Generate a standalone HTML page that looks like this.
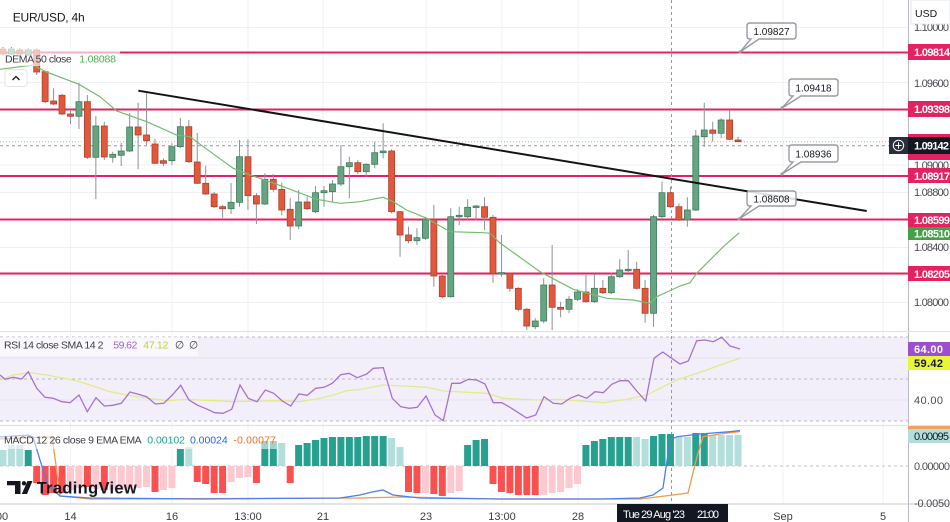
<!DOCTYPE html>
<html><head><meta charset="utf-8"><style>
html,body{margin:0;padding:0;background:#fff;}
svg{display:block;font-family:"Liberation Sans",Arial,sans-serif;}
</style></head><body>
<svg width="950" height="522" viewBox="0 0 950 522" xmlns="http://www.w3.org/2000/svg">
<rect x="0" y="0" width="950" height="522" fill="#fff"/>
<!-- RSI background -->
<rect x="0" y="337" width="908" height="84" fill="#f3effa"/>
<!-- horizontal grid main -->
<g stroke="#f0f1f4" stroke-width="1">
<path d="M0,27.5H908M0,55H908M0,82.5H908M0,110H908M0,137.5H908M0,165H908M0,192.5H908M0,220H908M0,247.5H908M0,275H908M0,302.5H908"/>
<path d="M70.5,0V504M172,0V504M248,0V504M323,0V504M426,0V504M502,0V504M578,0V504M783,0V504M883,0V504"/>
</g>
<path d="M0,358H908M0,400H908" stroke="#e4e0ee" stroke-width="1"/>
<g stroke="#b8b8c4" stroke-width="1" stroke-dasharray="3,3" fill="none">
<path d="M0,337H908M0,379H908M0,421H908"/>
</g>
<path d="M0,466H908" stroke="#c4c6cc" stroke-width="1" stroke-dasharray="3,3"/>
<!-- pink levels -->
<g stroke="#e3235f" stroke-width="2">
<path d="M0,52.5H908M0,109.5H908M0,176H908M0,219.5H908M0,273.5H908"/>
</g>
<!-- current price dotted, crosshair -->
<path d="M0,141.7H908" stroke="#f4a6a6" stroke-width="1" stroke-dasharray="1,2"/>
<path d="M0,145.7H889" stroke="#9598a1" stroke-width="1" stroke-dasharray="3,3"/>
<path d="M671.5,0V504" stroke="#9598a1" stroke-width="1" stroke-dasharray="3,3"/>
<!-- wicks -->
<path fill="none" stroke="#8e9199" stroke-width="1" d="M2.9,47V56M11.35,47V55M19.8,48V56M28.25,48V56M36.7,48V75M45.15,70.7V103M53.6,88.3V105M62.05,94V115M70.5,111V124M78.95,82.7V129M87.4,95V159M95.85,116V199M104.3,121.7V160M112.75,151.7V162.7M121.2,143V166M129.65,113V152M138.1,102.7V169.3M146.55,93.3V145M155,138.7V164M163.45,158.3V166M171.9,143.3V165M180.35,118V148M188.8,120V163M197.25,133V184M205.7,165.7V195M214.15,192V208M222.6,205V217.7M231.05,183V214M239.5,140V206.7M247.95,139.3V210M256.4,193V224M264.85,173.3V205M273.3,174V191.7M281.75,182.7V215M290.2,198V240M298.65,190V229.3M307.1,196.7V210M315.55,186V213M324,186V206.7M332.45,180V201.7M340.9,145V186M349.35,156.7V198.3M357.8,160V174M366.25,163.3V176.7M374.7,141.7V168.3M383.15,123.3V158.3M391.6,149.3V213.3M400.05,211V256.7M408.5,226.7V243.3M416.95,228.3V245M425.4,216.7V240M433.85,205V286.7M442.3,275V298.3M450.75,208.3V297.5M459.2,206.7V225M467.65,199.3V220M476.1,205V220M484.55,197.3V230M493,215V282.7M501.45,235V276.7M509.9,272.7V291.7M518.35,287.3V311M526.8,308V330M535.25,318.3V329.3M543.7,278.3V323.3M552.15,245V330M560.6,301.7V317.3M569.05,296V313.3M577.5,289.3V301M585.95,275V302.7M594.4,274V303M602.85,280V294M611.3,272.7V294M619.75,259.3V278M628.2,250V272M636.65,261.7V289.5M645.1,280V322.7M653.55,215V326.7M662,181.7V218M670.45,186.7V208M678.9,203.3V221M687.35,197.3V226.7M695.8,130V211M704.25,102.7V146.7M712.7,121.7V141.7M721.15,118.3V138.3M729.6,110.7V140M738.05,136.7V142"/>
<!-- green bodies -->
<g fill="#66a582" stroke="#3f7b5b" stroke-width="0.8">
<rect x="8.35" y="49" width="6" height="5"/><rect x="25.25" y="50" width="6" height="5"/>
<rect x="75.95" y="101.7" width="6" height="14.6"/><rect x="92.85" y="126" width="6" height="31.3"/>
<rect x="109.75" y="154.3" width="6" height="3"/><rect x="118.2" y="151" width="6" height="4.3"/>
<rect x="126.65" y="127" width="6" height="24"/><rect x="168.9" y="146.7" width="6" height="14"/>
<rect x="177.35" y="126.7" width="6" height="20"/><rect x="228.05" y="202.3" width="6" height="6.4"/>
<rect x="236.5" y="156.7" width="6" height="45.6"/><rect x="261.85" y="179.3" width="6" height="24.7"/>
<rect x="295.65" y="202" width="6" height="24"/><rect x="312.55" y="192.7" width="6" height="19"/>
<rect x="321" y="190.7" width="6" height="2"/><rect x="329.45" y="184" width="6" height="7.7"/>
<rect x="337.9" y="166.7" width="6" height="17.3"/><rect x="346.35" y="162.7" width="6" height="4"/>
<rect x="363.25" y="164.3" width="6" height="7.4"/><rect x="371.7" y="152.7" width="6" height="11.6"/>
<rect x="380.15" y="151" width="6" height="1.7"/><rect x="413.95" y="237.7" width="6" height="3"/>
<rect x="422.4" y="219.3" width="6" height="19"/><rect x="447.75" y="216.7" width="6" height="80"/>
<rect x="456.2" y="215.3" width="6" height="1.5"/><rect x="464.65" y="207.3" width="6" height="9.4"/>
<rect x="473.1" y="206" width="6" height="1.5"/><rect x="498.45" y="272.6" width="6" height="1.5"/>
<rect x="532.25" y="321" width="6" height="5.7"/><rect x="540.7" y="285" width="6" height="36"/>
<rect x="566.05" y="299.3" width="6" height="10"/><rect x="574.5" y="292" width="6" height="7.3"/>
<rect x="591.4" y="288.3" width="6" height="13.4"/><rect x="608.3" y="276.7" width="6" height="16"/>
<rect x="616.75" y="270" width="6" height="6.7"/><rect x="625.2" y="269.3" width="6" height="1.5"/>
<rect x="650.55" y="216.7" width="6" height="96.6"/><rect x="659" y="192.7" width="6" height="24"/>
<rect x="684.35" y="210" width="6" height="10"/><rect x="692.8" y="136" width="6" height="74"/>
<rect x="701.25" y="130" width="6" height="6.7"/><rect x="718.15" y="120" width="6" height="13.3"/>
</g>
<!-- red bodies -->
<g fill="#e2583d" stroke="#ac422c" stroke-width="0.8">
<rect x="-0.1" y="49" width="6" height="5"/><rect x="16.8" y="50" width="6" height="4"/>
<rect x="33.7" y="50" width="6" height="22"/><rect x="42.15" y="71.7" width="6" height="30"/>
<rect x="50.6" y="101" width="6" height="3"/><rect x="59.05" y="95.3" width="6" height="18.7"/>
<rect x="67.5" y="114" width="6" height="2.3"/><rect x="84.4" y="101.7" width="6" height="55.6"/>
<rect x="101.3" y="126" width="6" height="31"/><rect x="135.1" y="127" width="6" height="8"/>
<rect x="143.55" y="135" width="6" height="5.7"/><rect x="152" y="144" width="6" height="19.3"/>
<rect x="160.45" y="160.7" width="6" height="2.6"/><rect x="185.8" y="126.7" width="6" height="35"/>
<rect x="194.25" y="162" width="6" height="21.3"/><rect x="202.7" y="183.3" width="6" height="10.7"/>
<rect x="211.15" y="194" width="6" height="12.7"/><rect x="219.6" y="206.7" width="6" height="2"/>
<rect x="244.95" y="156.7" width="6" height="39"/><rect x="253.4" y="195.7" width="6" height="8.3"/>
<rect x="270.3" y="179.3" width="6" height="10"/><rect x="278.75" y="189.3" width="6" height="20.7"/>
<rect x="287.2" y="209.3" width="6" height="16.7"/><rect x="304.1" y="202" width="6" height="6.7"/>
<rect x="354.8" y="162.7" width="6" height="9"/><rect x="388.6" y="151" width="6" height="60.7"/>
<rect x="397.05" y="211.7" width="6" height="23.3"/><rect x="405.5" y="235" width="6" height="5.7"/>
<rect x="430.85" y="219.3" width="6" height="56.7"/><rect x="439.3" y="276" width="6" height="20.7"/>
<rect x="481.55" y="206.7" width="6" height="10.6"/><rect x="490" y="217.3" width="6" height="56"/>
<rect x="506.9" y="273.3" width="6" height="15"/><rect x="515.35" y="288.3" width="6" height="21"/>
<rect x="523.8" y="309.3" width="6" height="16.7"/><rect x="549.15" y="285" width="6" height="22.3"/>
<rect x="557.6" y="307.3" width="6" height="2"/><rect x="582.95" y="292" width="6" height="9.7"/>
<rect x="599.85" y="288.3" width="6" height="4.4"/><rect x="633.65" y="269.3" width="6" height="19"/>
<rect x="642.1" y="288.3" width="6" height="25"/><rect x="667.45" y="192.7" width="6" height="14"/>
<rect x="675.9" y="206.7" width="6" height="13.3"/><rect x="709.7" y="130" width="6" height="3.3"/>
<rect x="726.6" y="120" width="6" height="19.3"/><rect x="735.05" y="140" width="6" height="1.7"/>
</g>
<!-- DEMA -->
<polyline fill="none" stroke="#72bd6e" stroke-width="1.2" points="0,69.3 33,65 45.7,71.7 79,84.3 100,96.7 116.7,111 146.7,121.7 176.7,135 190,136.7 200,144.3 233.3,168.3 250,175 260,178.3 283.3,186.7 316.7,199.3 340,203.3 360,201.7 383.3,197.3 393.3,201.7 406.7,210 426.7,218.3 438.3,225 450,231.7 483.3,232.7 490,233.3 500,243 540,271.7 573.3,289.3 606.7,298.3 633.3,300 650,303.3 656.7,296.7 680,286 690,282.7 696.7,273.3 723.3,246.7 739.3,232.7"/>
<!-- trendline -->
<line x1="138.3" y1="90.7" x2="866.7" y2="211" stroke="#131313" stroke-width="2"/>
<!-- callouts -->
<g fill="#ffffff" fill-opacity="0.85" stroke="#9a9ca3" stroke-width="1.4">
<path d="M750,23H793Q796,23 796,26V36Q796,39 793,39H759L740,52L751,39H750Q747,39 747,36V26Q747,23 750,23Z"/>
<path d="M792,79H835Q838,79 838,82V93Q838,96 835,96H801L782,108L793,96H792Q789,96 789,93V82Q789,79 792,79Z"/>
<path d="M792,145H835Q838,145 838,148V159Q838,162 835,162H801L782,174L793,162H792Q789,162 789,159V148Q789,145 792,145Z"/>
<path d="M750,191H793Q796,191 796,194V203Q796,206 793,206H759L739,219L751,206H750Q747,206 747,203V194Q747,191 750,191Z"/>
</g>
<g fill="#9a9ca3"><circle cx="740" cy="52" r="1.6"/><circle cx="782" cy="108" r="1.6"/><circle cx="782" cy="174" r="1.6"/><circle cx="739" cy="219" r="1.6"/></g>
<g font-size="10" fill="#131722" text-anchor="middle">
<text x="771.5" y="35">1.09827</text>
<text x="813.5" y="91.5">1.09418</text>
<text x="813.5" y="157.5">1.08936</text>
<text x="771.5" y="202.5">1.08608</text>
</g>
<!-- RSI lines -->
<polyline fill="none" stroke="#e3ea8a" stroke-width="1.3" points="0,380 13.3,375 30,372.7 46.7,375 76.7,380.7 110,391.7 140,397.3 166.7,400.7 186.7,399.3 233.3,401.7 276.7,400.7 300,401.7 320,398.3 333.3,395 346.7,390.7 360,389.5 383.3,385 403.3,386 426.7,387.3 443.3,391 486.7,393.3 503.3,398.3 536.7,400 560,399.3 603.3,402.7 626.7,399.3 646.7,395 676.7,380 706.7,370 720,365 740,358.3"/>
<polyline fill="none" stroke="#a572d0" stroke-width="1.3" points="0,375 5,379.3 13.3,377.3 21.7,379 28.3,371.7 36.7,388.3 45,397.3 53.3,398.3 61.7,401.7 70,402.7 79,395 87.3,411.7 96,397.7 104.3,406 112.7,405.3 121.3,403.3 130,392 138.3,394.3 146.7,396.7 155.3,404 163.7,403.3 172.3,395 180.7,385.3 189,400 197.7,405.3 206,408.7 214.7,412.7 223,413.3 231.7,409.3 240,385 248.3,398.3 257,401.7 265.3,390 273.7,393.3 282.3,401 290.7,406 299,394 307.3,395.3 315.7,388.3 324,387.3 332.3,383.3 340.7,374.7 349,373.3 357.3,377.7 366.7,374 373.3,368.3 383.3,367.7 392.3,398.3 400.7,406.7 409.3,408.3 417.3,407.3 426,396 435,415 443.3,420.7 451.7,383.3 460,383.3 468.3,379.3 476.7,380 485,384 493.3,402.7 501.7,402.7 510,407.3 518.3,412.7 526.7,418 535.7,415 544,396.7 553.3,403.3 561.7,404 570,398.3 578.3,395 586.7,398.3 595,391.7 603.3,392.7 611.7,384.3 620,380.7 628.3,380.7 636.7,391 645.7,401 654,358.3 662.7,352 671.7,358.3 680,364 688.3,361 696.7,340.7 705,340 713.3,341.7 721.7,337.3 730,346 740,349"/>
<!-- MACD histogram -->
<g fill="#b2dfdb">
<rect x="-0.6" y="450" width="7" height="16"/><rect x="7.85" y="445" width="7" height="21"/><rect x="16.3" y="445" width="7" height="21"/>
<rect x="185.3" y="447" width="7" height="19"/><rect x="278.25" y="443" width="7" height="23"/>
<rect x="388.1" y="438" width="7" height="28"/><rect x="396.55" y="447" width="7" height="19"/>
<rect x="633.15" y="437" width="7" height="29"/><rect x="641.6" y="439" width="7" height="27"/>
<rect x="675.4" y="437" width="7" height="29"/><rect x="683.85" y="437" width="7" height="29"/>
<rect x="709.2" y="435" width="7" height="31"/><rect x="717.65" y="435" width="7" height="31"/><rect x="726.1" y="435" width="7" height="31"/><rect x="734.55" y="435" width="7" height="31"/>
</g>
<g fill="#26a08f">
<rect x="24.75" y="450" width="7" height="16"/><rect x="176.85" y="449" width="7" height="17"/>
<rect x="261.35" y="441" width="7" height="25"/><rect x="269.8" y="441" width="7" height="25"/>
<rect x="295.15" y="445" width="7" height="21"/><rect x="303.6" y="443" width="7" height="23"/><rect x="312.05" y="440" width="7" height="26"/><rect x="320.5" y="438" width="7" height="28"/><rect x="328.95" y="437" width="7" height="29"/><rect x="337.4" y="437" width="7" height="29"/><rect x="345.85" y="437" width="7" height="29"/><rect x="354.3" y="437" width="7" height="29"/><rect x="362.75" y="436" width="7" height="30"/><rect x="371.2" y="436" width="7" height="30"/><rect x="379.65" y="436" width="7" height="30"/>
<rect x="464.15" y="445" width="7" height="21"/><rect x="472.6" y="440" width="7" height="26"/><rect x="481.05" y="439" width="7" height="27"/>
<rect x="582.45" y="445" width="7" height="21"/><rect x="590.9" y="441" width="7" height="25"/><rect x="599.35" y="439" width="7" height="27"/><rect x="607.8" y="437" width="7" height="29"/><rect x="616.25" y="437" width="7" height="29"/><rect x="624.7" y="437" width="7" height="29"/>
<rect x="650.05" y="436" width="7" height="30"/><rect x="658.5" y="434" width="7" height="32"/><rect x="666.95" y="434" width="7" height="32"/>
<rect x="692.3" y="433" width="7" height="33"/><rect x="700.75" y="433" width="7" height="33"/>
</g>
<g fill="#fb5050">
<rect x="33.2" y="466" width="7" height="17"/><rect x="41.65" y="466" width="7" height="29"/><rect x="50.1" y="466" width="7" height="27"/><rect x="58.55" y="466" width="7" height="27"/>
<rect x="83.9" y="466" width="7" height="21"/><rect x="100.8" y="466" width="7" height="24"/><rect x="151.5" y="466" width="7" height="26"/>
<rect x="193.75" y="466" width="7" height="16"/><rect x="202.2" y="466" width="7" height="18"/><rect x="210.65" y="466" width="7" height="27"/><rect x="219.1" y="466" width="7" height="27"/>
<rect x="252.9" y="466" width="7" height="17"/><rect x="286.7" y="466" width="7" height="17"/>
<rect x="405" y="466" width="7" height="26"/><rect x="413.45" y="466" width="7" height="27"/><rect x="430.35" y="466" width="7" height="28"/><rect x="438.8" y="466" width="7" height="30"/>
<rect x="489.5" y="466" width="7" height="18"/><rect x="497.95" y="466" width="7" height="26"/><rect x="506.4" y="466" width="7" height="27"/><rect x="514.85" y="466" width="7" height="29"/><rect x="523.3" y="466" width="7" height="29"/><rect x="531.75" y="466" width="7" height="29"/>
</g>
<g fill="#fdc8cf">
<rect x="67" y="466" width="7" height="24"/><rect x="75.45" y="466" width="7" height="22"/><rect x="92.35" y="466" width="7" height="23"/>
<rect x="109.25" y="466" width="7" height="24"/><rect x="117.7" y="466" width="7" height="24"/><rect x="126.15" y="466" width="7" height="23"/><rect x="134.6" y="466" width="7" height="22"/><rect x="143.05" y="466" width="7" height="21"/>
<rect x="159.95" y="466" width="7" height="24"/><rect x="168.4" y="466" width="7" height="22"/>
<rect x="227.55" y="466" width="7" height="16"/><rect x="236" y="466" width="7" height="12"/><rect x="244.45" y="466" width="7" height="11"/>
<rect x="421.9" y="466" width="7" height="27"/><rect x="447.25" y="466" width="7" height="27"/><rect x="455.7" y="466" width="7" height="25"/>
<rect x="540.2" y="466" width="7" height="29"/><rect x="548.65" y="466" width="7" height="27"/><rect x="557.1" y="466" width="7" height="26"/><rect x="565.55" y="466" width="7" height="22"/><rect x="574" y="466" width="7" height="18"/>
</g>
<!-- MACD lines -->
<polyline fill="none" stroke="#f09a50" stroke-width="1.3" points="0,439 45,437 52,437 56,465 60,496 90,499 360,498 400,497 500,499 640,499 673,495 688,493 697,456.7 703,436.7 720,434 740,431.5"/>
<polyline fill="none" stroke="#4f7fe8" stroke-width="1.3" points="0,437 28,435 33,437 40,460 48,485 60,496 90,498 200,499 340,498 360,495 372,492 383,490 393,495 420,498 500,499 600,499 640,498 653,495 663,488 670,440 677,436.7 700,434 730,431.7 740,430.5"/>
<!-- legends -->
<rect x="0" y="48" width="120" height="18" fill="#fff" fill-opacity="0.65"/>
<rect x="0" y="337" width="198" height="19" fill="#fff" fill-opacity="0.55"/>
<rect x="0" y="432" width="278" height="17" fill="#fff" fill-opacity="0.55"/>
<g font-size="10.5">
<text x="12.7" y="21.7" font-size="12" fill="#131722" textLength="72">EUR/USD, 4h</text>
<text x="5" y="62.7" fill="#3a3d45" textLength="66.7">DEMA 50 close</text>
<text x="79.3" y="62.7" fill="#4caf50" textLength="36.7">1.08088</text>
<text x="4" y="348.5" fill="#3a3d45" textLength="99.5">RSI 14 close SMA 14 2</text>
<text x="113.3" y="348.5" fill="#9b63cf" textLength="24">59.62</text>
<text x="143.3" y="348.5" fill="#c2cf38" textLength="25">47.12</text>
<text x="175" y="348.5" fill="#3a3d45">∅</text>
<text x="189" y="348.5" fill="#3a3d45">∅</text>
<text x="4" y="443.5" fill="#3a3d45" textLength="137.7">MACD 12 26 close 9 EMA EMA</text>
<text x="147.3" y="443.5" fill="#22a08c" textLength="37.7">0.00102</text>
<text x="190" y="443.5" fill="#2962ff" textLength="37.7">0.00024</text>
<text x="233.3" y="443.5" fill="#f07020" textLength="42.7">-0.00077</text>
</g>
<rect x="5" y="69.5" width="22" height="17" rx="3" fill="#fff" stroke="#e2e3e8"/>
<path d="M12.5,80L16,76.5L19.5,80" fill="none" stroke="#131722" stroke-width="1.3"/>
<!-- pane separators -->
<path d="M0,331.5H908M0,425.5H908" stroke="#e0e3eb" stroke-width="1.2"/>
<!-- right axis -->
<rect x="908" y="0" width="42" height="522" fill="#fff"/>
<path d="M908.5,0V522" stroke="#b8bbc2" stroke-width="1"/>
<path d="M0,504H950" stroke="#c8cacf" stroke-width="1"/>
<path d="M908,331.5H950M908,425.5H950" stroke="#e0e3eb"/>
<g font-size="11" fill="#4a4c52">
<text x="914" y="31" textLength="35">1.10000</text>
<text x="914" y="87" textLength="35">1.09600</text>
<text x="914" y="169" textLength="35">1.09000</text>
<text x="914" y="196" textLength="35">1.08800</text>
<text x="914" y="251" textLength="35">1.08400</text>
<text x="914" y="306" textLength="35">1.08000</text>
<text x="914" y="404" textLength="29">40.00</text>
<text x="914" y="470" textLength="36">0.00000</text>
<text x="914" y="507" textLength="36">-0.0050</text>
</g>
<rect x="911" y="0" width="39" height="24" fill="#fff" stroke="#e6e7eb"/>
<text x="915" y="17" font-size="10.5" fill="#131722">USD</text>
<!-- colored price labels -->
<g fill="#e3235f">
<rect x="908" y="44" width="42" height="16"/>
<rect x="908" y="101" width="42" height="16"/>
<rect x="908" y="134" width="42" height="26"/>
<rect x="908" y="168" width="42" height="15"/>
<rect x="908" y="213" width="42" height="14"/>
<rect x="908" y="266" width="42" height="15"/>
</g>
<rect x="908" y="227" width="42" height="13" fill="#43a047"/>
<rect x="908" y="137" width="42" height="17" fill="#131722"/>
<rect x="889" y="137" width="19" height="17" fill="#2a2e39"/>
<circle cx="898.5" cy="145.5" r="5.2" fill="none" stroke="#fff" stroke-width="1"/>
<path d="M898.5,142.3V148.7M895.3,145.5H901.7" stroke="#fff" stroke-width="1"/>
<g font-size="11" fill="#fff" font-weight="bold">
<text x="914" y="56" textLength="36">1.09814</text>
<text x="914" y="113" textLength="36">1.09398</text>
<text x="914" y="149.5" textLength="35">1.09142</text>
<text x="914" y="180" textLength="36">1.08917</text>
<text x="914" y="224" textLength="36">1.08599</text>
<text x="914" y="237.5" textLength="36">1.08510</text>
<text x="914" y="278" textLength="36">1.08205</text>
</g>
<rect x="908" y="342" width="42" height="14" fill="#9c4fcf"/>
<rect x="908" y="356" width="42" height="14" fill="#e8f53a"/>
<text x="914" y="353" font-size="11" fill="#fff" font-weight="bold" textLength="29">64.00</text>
<text x="914" y="367" font-size="11" fill="#131722" font-weight="bold" textLength="29">59.42</text>
<rect x="908" y="426" width="42" height="3" fill="#f0a060"/>
<rect x="908" y="429" width="42" height="14" fill="#b2dfdb"/>
<text x="914" y="440" font-size="11" fill="#131722" textLength="35">0.00095</text>
<!-- time axis -->
<g font-size="11" fill="#3a3d45" text-anchor="middle">
<text x="2" y="520">00</text>
<text x="70.5" y="520">14</text>
<text x="172" y="520">16</text>
<text x="248" y="520">13:00</text>
<text x="323" y="520">21</text>
<text x="426" y="520">23</text>
<text x="502" y="520">13:00</text>
<text x="578" y="520">28</text>
<text x="783" y="520">Sep</text>
<text x="883" y="520">5</text>
</g>
<rect x="617" y="504" width="111" height="18" fill="#131722"/>
<text x="623" y="518" font-size="11" fill="#fff" textLength="62">Tue 29 Aug '23</text>
<text x="697" y="518" font-size="11" fill="#fff" textLength="22">21:00</text>
<!-- TradingView logo -->
<g fill="#131722">
<rect x="7" y="481" width="13.5" height="4.3"/>
<rect x="15" y="481" width="5.5" height="13"/>
<circle cx="24" cy="483.3" r="2.2"/>
<polygon points="27.5,481 32.5,481 27,494 21.8,494"/>
<text x="36.7" y="493.5" font-size="16.5" font-weight="bold" textLength="100">TradingView</text>
</g>
</svg>
</body></html>
